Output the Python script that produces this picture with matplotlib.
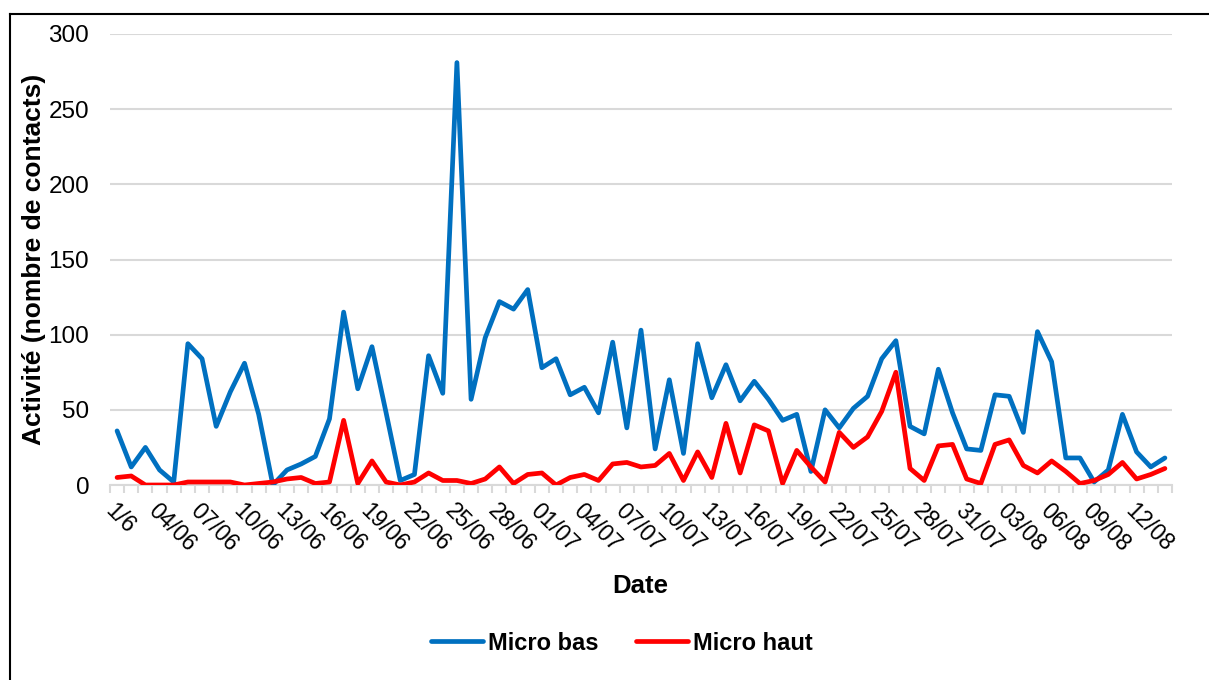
import numpy as np
import matplotlib
matplotlib.use("Agg")
import matplotlib.pyplot as plt
from matplotlib.lines import Line2D

plt.rcParams['font.family'] = ['Liberation Sans', 'DejaVu Sans']

# Daily contact counts, 1 June -> 14 August
micro_bas = [36, 12, 25, 10, 2, 94, 84, 39, 62, 81, 47, 0, 10, 14, 19, 44, 115, 64, 92, 48,
             3, 7, 86, 61, 281, 57, 98, 122, 117, 130, 78, 84, 60, 65, 48, 95, 38, 103, 24, 70,
             21, 94, 58, 80, 56, 69, 57, 43, 47, 9, 50, 38, 51, 59, 84, 96, 39, 34, 77, 48,
             24, 23, 60, 59, 35, 102, 82, 18, 18, 2, 10, 47, 22, 12, 18]
micro_haut = [5, 6, 0, 0, 0, 2, 2, 2, 2, 0, 1, 2, 4, 5, 1, 2, 43, 1, 16, 2,
              0, 2, 8, 3, 3, 1, 4, 12, 1, 7, 8, 0, 5, 7, 3, 14, 15, 12, 13, 21,
              3, 22, 5, 41, 8, 40, 36, 1, 23, 12, 2, 35, 25, 32, 49, 75, 11, 3, 26, 27,
              4, 1, 27, 30, 13, 8, 16, 9, 1, 3, 7, 15, 4, 7, 11]
tick_labels = ["1/6", "04/06", "07/06", "10/06", "13/06", "16/06", "19/06", "22/06", "25/06",
               "28/06", "01/07", "04/07", "07/07", "10/07", "13/07", "16/07", "19/07", "22/07",
               "25/07", "28/07", "31/07", "03/08", "06/08", "09/08", "12/08"]
y_ticks = [0, 50, 100, 150, 200, 250, 300]

W, H = 1209, 680
fig = plt.figure(figsize=(W / 100, H / 100), dpi=100)
ax = fig.add_axes([110 / W, 1 - 485 / H, (1172 - 110) / W, (485 - 34) / H])

x = np.arange(len(micro_bas))
ax.plot(x, micro_bas, color='#0070C0', lw=3.4, solid_joinstyle='round', solid_capstyle='round',
        label='Micro bas', zorder=3)
ax.plot(x, micro_haut, color='#FF0000', lw=3.4, solid_joinstyle='round', solid_capstyle='round',
        label='Micro haut', zorder=4)

ax.set_xlim(-0.5, len(micro_bas) - 0.5)
ax.set_ylim(0, 300)
ax.set_yticks(y_ticks)
ax.yaxis.grid(True, color='#d9d9d9', lw=1.5)
ax.set_axisbelow(True)
for s in ['top', 'right', 'left']:
    ax.spines[s].set_visible(False)
ax.spines['bottom'].set_color('#d9d9d9')
ax.spines['bottom'].set_linewidth(1.5)
ax.tick_params(axis='y', length=0, labelsize=17.5, pad=15)

ax.set_xticks(np.arange(0, len(micro_bas), 3))
ax.set_xticklabels(tick_labels, rotation=-45, ha='left', va='top', rotation_mode='anchor',
                   fontsize=16.5)
ax.set_xticks(np.arange(-0.5, len(micro_bas)), minor=True)
ax.tick_params(axis='x', which='major', length=0, pad=10)
ax.tick_params(axis='x', which='minor', length=6, color='#d9d9d9', width=1.5)

ax.set_ylabel('Activité (nombre de contacts)', fontsize=19, fontweight='bold', labelpad=2)
fig.text(640 / W, 1 - 586 / H, 'Date', fontsize=18.5, fontweight='bold', ha='center', va='center')

handles = [Line2D([], [], color='#0070C0', lw=3.4, solid_capstyle='round'),
           Line2D([], [], color='#FF0000', lw=3.4, solid_capstyle='round')]
fig.legend(handles, ['Micro bas', 'Micro haut'], loc='center', bbox_to_anchor=(622 / W, 1 - 643 / H),
           ncol=2, frameon=False, prop={'size': 17, 'weight': 'bold'}, handlelength=2.2,
           handletextpad=0.2, columnspacing=1.6)

# outer frame (left and top edges only)
fig.add_artist(Line2D([10 / W, 10 / W], [0, 1 - 14 / H], transform=fig.transFigure, color='black', lw=1.5))
fig.add_artist(Line2D([10 / W, 1], [1 - 14 / H, 1 - 14 / H], transform=fig.transFigure, color='black', lw=1.5))

fig.savefig('out.png', dpi=100)
